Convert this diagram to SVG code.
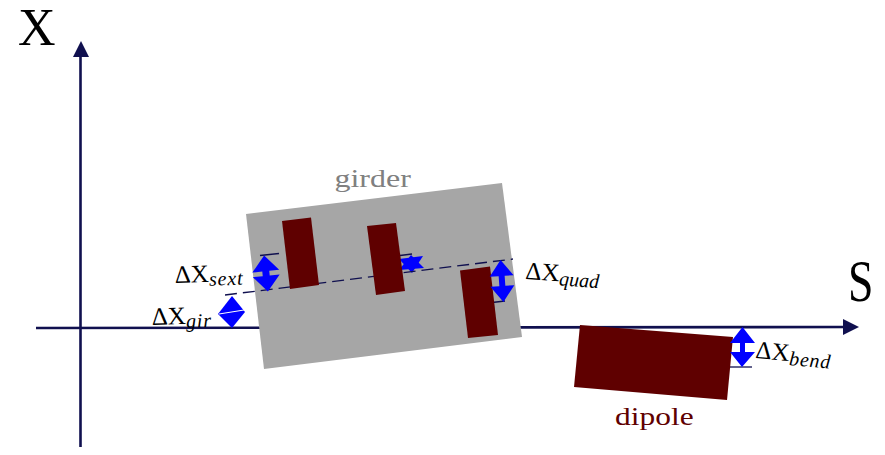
<svg xmlns="http://www.w3.org/2000/svg" width="885" height="455" viewBox="0 0 885 455">
<style>
.ax{stroke:#10104f;stroke-width:2.600;fill:none}
.thin{stroke:#10104f;stroke-width:1.300;fill:none}
.head{fill:#10104f}
.mag{fill:#5f0000}
.da{fill:#0000ff;stroke:none}
.slit{stroke:#fff;stroke-width:1}
text{font-family:"Liberation Serif","Times New Roman",serif}
.lab{font-size:25px;fill:#000}
.sub{font-size:20px;font-style:italic;fill:#000;letter-spacing:.8px}
.big{font-size:52px;fill:#000}
.name{font-size:26px}
</style>
<g id="connectors">
<path class="ax" d="M36,328 L848,327"/>
<path class="head" d="M843,319 L859,327 L843,335 Z"/>
<path class="ax" d="M80.500,447 V56"/>
<path class="head" d="M73,57 L81,41 L89,57 Z"/>
</g>
<g id="girder">
<polygon fill="#a6a6a6" points="246,214 502,183 522,337 264,369"/>
<text class="name" transform="translate(334.500,187) scale(1.230,1)" fill="#808080">girder</text>
</g>
<g id="dx-quad1">
<polygon class="da" points="411,255 424,268 399,270"/>
<polygon class="da" points="412,273 423,256 399,259"/>
</g>
<g id="guides">
<path class="thin" stroke-dasharray="12 6" d="M225,295 L513,259"/>
<path class="thin" d="M260,255.500 L279,253.500"/>
<path class="thin" d="M400,255.500 L412,254"/>
<path class="thin" d="M492,302.500 L505,301"/>
<path class="thin" d="M730,367 L752,367"/>
</g>
<g id="sext"><polygon class="mag" points="282,221 311,217.500 319,285 290,289"/></g>
<g id="quad1"><polygon class="mag" points="367,226 396,223 405,291 376,295"/></g>
<g id="quad2"><polygon class="mag" points="460,270.500 490,266.500 498,335 468,338"/></g>
<g id="dipole">
<polygon class="mag" points="580,325 733,337 727,400 574,387"/>
<text class="name" transform="translate(615,425) scale(1.210,1)" fill="#5f0000">dipole</text>
</g>
<g id="dx-sext">
<path class="da" transform="translate(266,273.500) rotate(-6)" d="M0,-18 L13.500,-2.300 L3.500,-2.300 L3.500,2.300 L13.500,2.300 L0,18 L-13.500,2.300 L-3.500,2.300 L-3.500,-2.300 L-13.500,-2.300 Z"/>
<text transform="translate(175,283) rotate(-2)"><tspan class="lab">ΔX</tspan><tspan class="sub" dy="4">sext</tspan></text>
</g>
<g id="dx-gir">
<polygon class="da" points="232,296 245,312 232,328 218,314"/>
<path class="slit" d="M219,314 L244,310"/>
<text transform="translate(152,325) rotate(-2)"><tspan class="lab">ΔX</tspan><tspan class="sub" dy="4">gir</tspan></text>
</g>
<g id="dx-quad2">
<path class="da" transform="translate(502,281) rotate(-4)" d="M0,-21 L12,-5 L3,-5 L3,5 L12,5 L0,21 L-12,5 L-3,5 L-3,-5 L-12,-5 Z"/>
<text transform="translate(525,279) rotate(4)"><tspan class="lab">ΔX</tspan><tspan class="sub" dy="4" style="letter-spacing:0">quad</tspan></text>
</g>
<g id="dx-bend">
<path class="da" d="M742.500,327 L755,343 L745,343 L745,352 L755,352 L742,367 L730,352 L740,352 L740,343 L730,343 Z"/>
<text transform="translate(755,358) rotate(5)"><tspan class="lab">ΔX</tspan><tspan class="sub" dy="4">bend</tspan></text>
</g>
<g id="axis-labels">
<text class="big" x="18" y="45">X</text>
<text class="big" transform="translate(848,301) scale(.88,1.120)">S</text>
</g>
</svg>
